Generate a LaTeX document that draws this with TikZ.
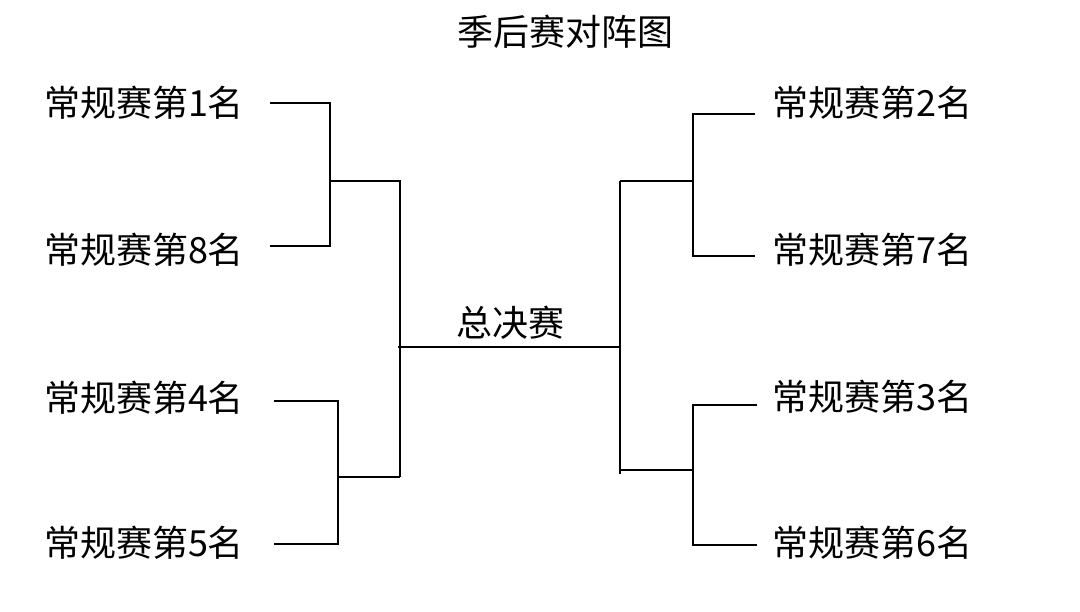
\documentclass[tikz,border=0pt]{standalone}
\usepackage{fontspec}
\newfontfamily\cjk{Noto Sans CJK SC}
\begin{document}
\begin{tikzpicture}[x=0.75pt,y=-0.75pt,
  lbl/.style={font=\cjk\fontsize{27}{30}\selectfont, inner sep=0pt},
  ln/.style={line width=1.2pt, black}]
\useasboundingbox (0,0) rectangle (1080,611);
\node[lbl] (title) at (565,32) {季后赛对阵图};
\node[lbl] (t1) at (144,103) {常规赛第1名};
\node[lbl] (t8) at (144,250) {常规赛第8名};
\node[lbl] (t4) at (144,398) {常规赛第4名};
\node[lbl] (t5) at (144,543) {常规赛第5名};
\node[lbl] (t2) at (872,103) {常规赛第2名};
\node[lbl] (t7) at (872,250) {常规赛第7名};
\node[lbl] (t3) at (872,397) {常规赛第3名};
\node[lbl] (t6) at (872,543) {常规赛第6名};
\node[lbl] (final) at (510,323) {总决赛};
\coordinate (a1) at (270,103); \coordinate (a2) at (330,103);
\coordinate (a3) at (330,246); \coordinate (a4) at (270,246);
\coordinate (am) at (330,181); \coordinate (lt) at (400,181);
\coordinate (b1) at (274,401); \coordinate (b2) at (338,401);
\coordinate (b3) at (338,544); \coordinate (b4) at (274,544);
\coordinate (bm) at (338,477); \coordinate (lb) at (400,477);
\coordinate (cl) at (398,347); \coordinate (cr) at (620,347);
\coordinate (rt) at (620,181); \coordinate (rb) at (620,474);
\coordinate (cm) at (693,181); \coordinate (c1) at (755,114);
\coordinate (c2) at (693,114); \coordinate (c3) at (693,256); \coordinate (c4) at (755,256);
\coordinate (dm) at (693,470); \coordinate (d1) at (757,405);
\coordinate (d2) at (693,405); \coordinate (d3) at (693,545); \coordinate (d4) at (757,545);
\draw[ln] (a1) -- (a2) -- (a3) -- (a4);
\draw[ln] (am) -- (lt) -- (lb);
\draw[ln] (b1) -- (b2) -- (b3) -- (b4);
\draw[ln] (bm) -- (lb);
\draw[ln] (cl) -- (cr);
\draw[ln] (rt) -- (rb);
\draw[ln] (rt) -- (cm);
\draw[ln] (c1) -- (c2) -- (c3) -- (c4);
\draw[ln] (rb |- dm) -- (dm);
\draw[ln] (d1) -- (d2) -- (d3) -- (d4);
\end{tikzpicture}
\end{document}
